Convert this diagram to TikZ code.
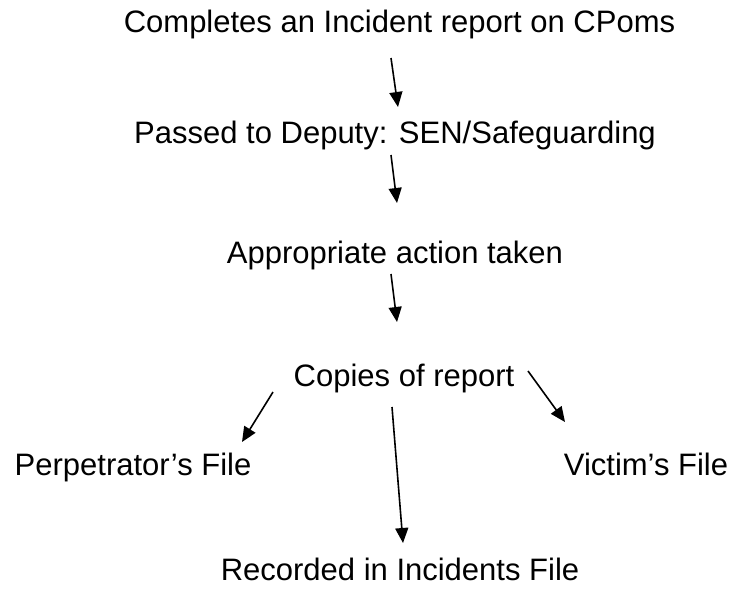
\documentclass[tikz,border=0pt]{standalone}
\usepackage{fontspec}
\setmainfont{Liberation Sans}
\usetikzlibrary{arrows.meta}
\begin{document}
\begin{tikzpicture}[x=1pt,y=1pt,
  lbl/.style={inner sep=0pt,anchor=base,font=\fontsize{31}{36}\selectfont},
  arr/.style={line width=1.6pt,-{Triangle[length=15pt,width=13pt]}}]
\useasboundingbox (0,0) rectangle (730,-590);
\node[lbl] (t1) at (399.5,-32) {Completes an Incident report on CPoms};
\node[lbl] (t2) at (395,-143) {Passed to Deputy: SEN/Safeguarding};
\node[lbl] (t3) at (395,-263) {Appropriate action taken};
\node[lbl] (t4) at (404,-386) {Copies of report};
\node[lbl] (t5) at (133,-475) {Perpetrator’s File};
\node[lbl] (t6) at (646,-475) {Victim’s File};
\node[lbl] (t7) at (400,-580) {Recorded in Incidents File};
\coordinate (a1s) at (391,-58);  \coordinate (a1e) at (398,-107);
\coordinate (a2s) at (391,-155); \coordinate (a2e) at (397,-203);
\coordinate (a3s) at (391,-274); \coordinate (a3e) at (397,-322);
\coordinate (als) at (273,-392); \coordinate (ale) at (242,-442);
\coordinate (ams) at (392,-407); \coordinate (ame) at (403,-543);
\coordinate (ars) at (528,-371); \coordinate (are) at (565,-422);
\draw[arr] (a1s) -- (a1e);
\draw[arr] (a2s) -- (a2e);
\draw[arr] (a3s) -- (a3e);
\draw[arr] (als) -- (ale);
\draw[arr] (ams) -- (ame);
\draw[arr] (ars) -- (are);
\end{tikzpicture}
\end{document}
